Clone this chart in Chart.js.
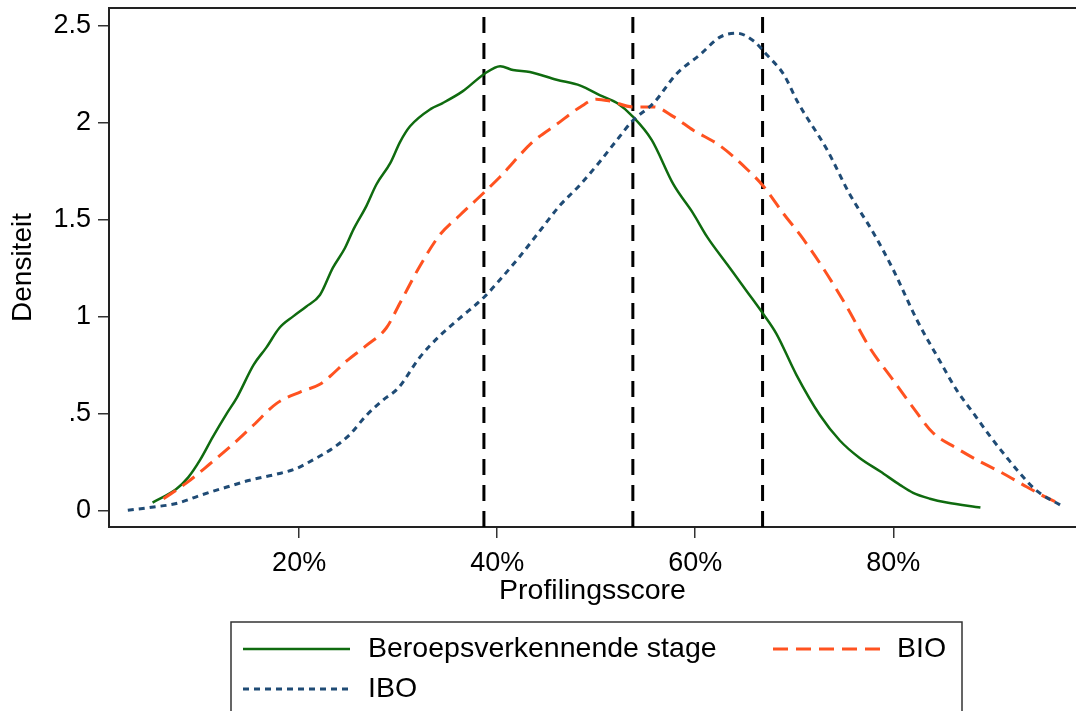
<!DOCTYPE html>
<html>
<head>
<meta charset="utf-8">
<script src="https://cdn.jsdelivr.net/npm/chart.js@4/dist/chart.umd.min.js"></script>
<style>
  html, body { margin: 0; padding: 0; background: #fff; overflow: hidden; }
  #c { display: block; }
</style>
</head>
<body>
<canvas id="c" width="1076" height="711"></canvas>
<script>
// ---- Data ----
const seriesLabels = ["Beroepsverkennende stage", "BIO", "IBO"];

const stageX = [5.2, 7.6, 8.8, 10.0, 11.3, 12.7, 13.7, 15.4, 16.7, 18.0, 19.4, 20.7, 22.1, 23.4, 24.6, 25.5, 26.8, 27.8, 29.2, 30.2, 31.2, 33.3, 34.5, 36.5, 38.7, 40.3, 41.6, 43.3, 46.0, 48.4, 50.4, 52.1, 53.7, 55.6, 57.8, 59.8, 61.2, 63.2, 65.2, 66.9, 68.2, 70.2, 72.6, 74.6, 76.6, 78.7, 80.7, 82.0, 83.7, 85.4, 88.8];
const stageY = [0.04, 0.11, 0.17, 0.26, 0.38, 0.50, 0.58, 0.75, 0.84, 0.94, 1.00, 1.05, 1.11, 1.25, 1.35, 1.45, 1.57, 1.68, 1.79, 1.90, 1.98, 2.07, 2.10, 2.16, 2.25, 2.29, 2.27, 2.26, 2.22, 2.19, 2.14, 2.10, 2.03, 1.91, 1.68, 1.53, 1.41, 1.27, 1.13, 1.01, 0.91, 0.70, 0.49, 0.36, 0.27, 0.20, 0.13, 0.09, 0.06, 0.04, 0.014];

const bioX = [6.3, 8.6, 11.0, 13.3, 15.4, 17.7, 20.1, 22.1, 23.1, 24.8, 26.8, 28.8, 30.2, 32.2, 34.2, 36.2, 38.7, 40.3, 43.6, 46.0, 48.4, 50.0, 51.4, 53.7, 55.8, 57.8, 59.8, 62.5, 65.2, 66.9, 68.9, 70.6, 72.9, 75.3, 77.6, 80.0, 82.0, 84.0, 86.4, 88.8, 91.1, 93.5, 95.5, 97.0];
const bioY = [0.06, 0.14, 0.24, 0.34, 0.44, 0.55, 0.61, 0.65, 0.69, 0.77, 0.85, 0.94, 1.07, 1.26, 1.42, 1.52, 1.64, 1.72, 1.90, 1.99, 2.08, 2.12, 2.11, 2.08, 2.08, 2.03, 1.96, 1.88, 1.76, 1.67, 1.53, 1.42, 1.25, 1.05, 0.84, 0.67, 0.53, 0.40, 0.32, 0.25, 0.19, 0.12, 0.065, 0.03];

const iboX = [2.7, 5.3, 7.6, 10.0, 12.7, 15.0, 17.7, 19.7, 21.4, 23.4, 25.1, 26.8, 28.5, 30.0, 32.2, 34.2, 36.2, 38.7, 40.3, 42.3, 44.3, 46.3, 48.4, 50.4, 52.1, 53.7, 55.8, 58.1, 60.5, 62.5, 64.2, 65.9, 67.2, 68.9, 70.4, 73.3, 75.6, 78.0, 80.0, 82.4, 84.7, 86.4, 88.1, 89.8, 91.5, 92.8, 94.5, 96.9];
const iboY = [0.00, 0.017, 0.035, 0.077, 0.12, 0.155, 0.186, 0.215, 0.26, 0.32, 0.39, 0.49, 0.57, 0.63, 0.79, 0.90, 0.99, 1.10, 1.19, 1.31, 1.44, 1.57, 1.68, 1.80, 1.91, 2.01, 2.10, 2.25, 2.35, 2.44, 2.46, 2.42, 2.35, 2.25, 2.10, 1.86, 1.63, 1.43, 1.24, 0.98, 0.77, 0.62, 0.50, 0.38, 0.27, 0.19, 0.10, 0.026];

const cutoffs = [38.66, 53.7, 66.8];

const xTickValues = [20, 40, 60, 80];
const xTickLabels = ["20%", "40%", "60%", "80%"];
const yTickValues = [0, 0.5, 1, 1.5, 2, 2.5];
const yTickLabels = ["0", ".5", "1", "1.5", "2", "2.5"];

const xRange = [0.8, 98.45];
const yRange = [-0.086, 2.59];

// ---- Build chart ----
const pairs = (xs, ys) => xs.map((x, i) => ({ x: x, y: ys[i] }));
const FONT = "'Liberation Sans', Arial, sans-serif";

const datasets = [
  { label: seriesLabels[0], data: pairs(stageX, stageY), borderColor: "#0f6b0f", borderWidth: 2.5, borderDash: [], order: 3 },
  { label: seriesLabels[1], data: pairs(bioX, bioY), borderColor: "#ff5220", borderWidth: 3, borderDash: [15, 8], order: 2 },
  { label: seriesLabels[2], data: pairs(iboX, iboY), borderColor: "#1f4b75", borderWidth: 3, borderDash: [6, 5], order: 1 }
];
datasets.forEach(d => { d.cubicInterpolationMode = "monotone"; });
cutoffs.forEach(c => {
  datasets.push({ label: "", data: [{ x: c, y: yRange[0] }, { x: c, y: yRange[1] }],
    borderColor: "#000", borderWidth: 3, borderDash: [16, 10], order: 10, tension: 0 });
});
datasets.forEach(d => { d.pointRadius = 0; d.fill = false; });

const framePlugin = {
  id: "frame",
  afterDatasetsDraw(chart) {
    const ctx = chart.ctx, a = chart.chartArea;
    ctx.save();
    ctx.strokeStyle = "#222";
    ctx.lineWidth = 2;
    ctx.beginPath();
    ctx.moveTo(a.left, a.top);
    ctx.lineTo(a.right + 5, a.top);
    ctx.stroke();
    ctx.restore();
  }
};

const legendPlugin = {
  id: "boxLegend",
  afterDraw(chart) {
    const ctx = chart.ctx;
    ctx.save();
    ctx.strokeStyle = "#333";
    ctx.lineWidth = 1.5;
    ctx.strokeRect(231, 622, 731, 120);
    const items = [
      { ds: 0, x1: 243, x2: 350, tx: 368, y: 649 },
      { ds: 1, x1: 773, x2: 882, tx: 897, y: 649 },
      { ds: 2, x1: 243, x2: 350, tx: 368, y: 689 }
    ];
    ctx.font = "28.5px " + FONT;
    ctx.textBaseline = "middle";
    ctx.textAlign = "left";
    items.forEach(it => {
      const d = chart.data.datasets[it.ds];
      ctx.strokeStyle = d.borderColor;
      ctx.lineWidth = d.borderWidth;
      ctx.setLineDash(d.borderDash);
      ctx.beginPath();
      ctx.moveTo(it.x1, it.y);
      ctx.lineTo(it.x2, it.y);
      ctx.stroke();
      ctx.setLineDash([]);
      ctx.fillStyle = "#000";
      ctx.fillText(d.label, it.tx, it.y);
    });
    ctx.restore();
  }
};

new Chart(document.getElementById("c"), {
  type: "line",
  data: { datasets: datasets },
  options: {
    responsive: false,
    animation: false,
    events: [],
    layout: { padding: { left: 0, right: 0, top: 8, bottom: 91 } },
    plugins: { legend: { display: false }, tooltip: { enabled: false } },
    scales: {
      x: {
        type: "linear",
        min: xRange[0], max: xRange[1],
        afterFit(s) { s.height = 93; s.paddingLeft = 0; s.paddingRight = 0; },
        afterBuildTicks(s) { s.ticks = xTickValues.map(v => ({ value: v })); },
        ticks: {
          color: "#000", font: { family: FONT, size: 27 }, padding: 9, maxRotation: 0, autoSkip: false,
          callback: (v) => { const i = xTickValues.indexOf(v); return i >= 0 ? xTickLabels[i] : ""; }
        },
        grid: { display: true, drawOnChartArea: false, drawTicks: true, tickLength: 11, color: "#333", lineWidth: 1.5 },
        border: { display: true, color: "#222", width: 2 },
        title: { display: true, text: "Profilingsscore", color: "#000", font: { family: FONT, size: 28.5 }, padding: { top: 0, bottom: 12 } }
      },
      y: {
        type: "linear",
        min: yRange[0], max: yRange[1],
        afterFit(s) { s.width = 109; s.paddingTop = 0; s.paddingBottom = 0; },
        afterBuildTicks(s) { s.ticks = yTickValues.map(v => ({ value: v })); },
        ticks: {
          color: "#000", font: { family: FONT, size: 27 }, padding: 7, autoSkip: false,
          callback: (v) => { const i = yTickValues.indexOf(v); return i >= 0 ? yTickLabels[i] : ""; }
        },
        grid: { display: true, drawOnChartArea: false, drawTicks: true, tickLength: 11, color: "#333", lineWidth: 1.5 },
        border: { display: true, color: "#222", width: 2 },
        title: { display: true, text: "Densiteit", color: "#000", font: { family: FONT, size: 28 }, padding: { top: 6, bottom: 0 } }
      }
    }
  },
  plugins: [framePlugin, legendPlugin]
});
</script>
</body>
</html>
